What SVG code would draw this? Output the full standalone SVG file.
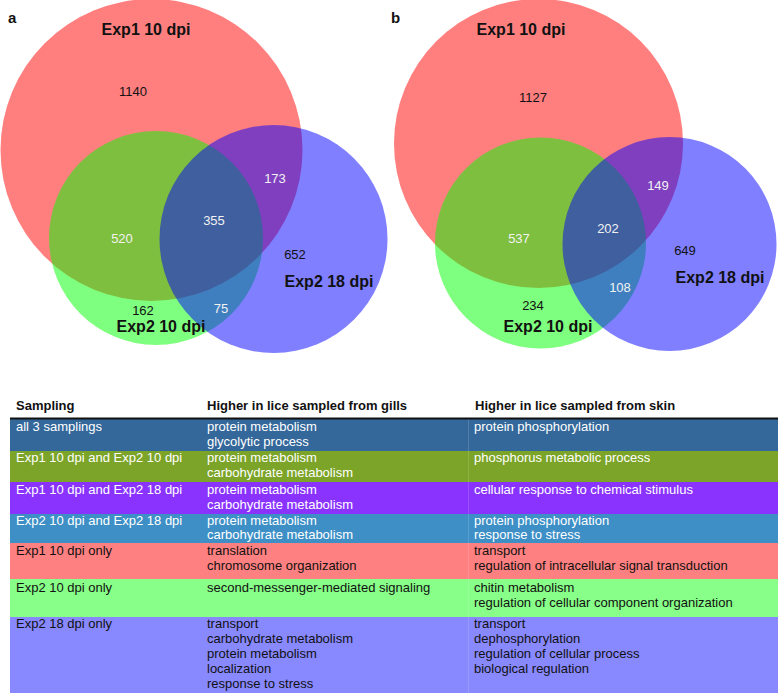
<svg xmlns="http://www.w3.org/2000/svg" width="779" height="698" viewBox="0 0 779 698">
<style>
.c{fill-opacity:0.5}
.lbl{font-family:"Liberation Sans",Arial,sans-serif;font-weight:bold;font-size:16px;fill:#111;text-anchor:middle}
.num{font-family:"Liberation Sans",Arial,sans-serif;font-size:13px;fill:#111;text-anchor:middle}
.w{fill:#f2f2f2}
.pl{font-family:"Liberation Sans",Arial,sans-serif;font-weight:bold;font-size:15px;fill:#111}
.th{font-family:"Liberation Sans",Arial,sans-serif;font-weight:bold;font-size:13px;fill:#111}
.td{font-family:"Liberation Sans",Arial,sans-serif;font-size:13px;fill:#fff}
.tk{fill:#111}
</style>
<rect width="779" height="698" fill="#fff"/>
<g id="venn-a">
<circle class="c" cx="151.5" cy="150" r="151" fill="#ff0000"/>
<circle class="c" cx="156" cy="238" r="107" fill="#00ff00"/>
<circle class="c" cx="273.5" cy="239" r="114" fill="#0000ff"/>
<text class="pl" x="8" y="23">a</text>
<text class="lbl" x="146" y="35">Exp1 10 dpi</text>
<text class="lbl" x="161" y="332">Exp2 10 dpi</text>
<text class="lbl" x="329" y="287">Exp2 18 dpi</text>
<text class="num" x="133" y="96">1140</text>
<text class="num w" x="275" y="183">173</text>
<text class="num w" x="214" y="225">355</text>
<text class="num w" x="122" y="243">520</text>
<text class="num" x="295" y="259">652</text>
<text class="num" x="143" y="315">162</text>
<text class="num w" x="221" y="313">75</text>
</g>
<g id="venn-b">
<circle class="c" cx="538.5" cy="143.5" r="144.5" fill="#ff0000"/>
<circle class="c" cx="540.5" cy="243" r="105.5" fill="#00ff00"/>
<circle class="c" cx="669.5" cy="244" r="107" fill="#0000ff"/>
<text class="pl" x="391" y="23">b</text>
<text class="lbl" x="521" y="35">Exp1 10 dpi</text>
<text class="lbl" x="548" y="332">Exp2 10 dpi</text>
<text class="lbl" x="720" y="283">Exp2 18 dpi</text>
<text class="num" x="533" y="102">1127</text>
<text class="num w" x="658" y="190">149</text>
<text class="num w" x="608" y="233">202</text>
<text class="num w" x="519" y="243">537</text>
<text class="num" x="685" y="255">649</text>
<text class="num w" x="620" y="292">108</text>
<text class="num" x="533" y="310">234</text>
</g>
<g id="table">
<text class="th" x="16" y="410">Sampling</text>
<text class="th" x="207" y="410">Higher in lice sampled from gills</text>
<text class="th" x="475" y="410">Higher in lice sampled from skin</text>
<rect x="10" y="419" width="768" height="32" fill="#34689a"/>
<rect x="10" y="451" width="768" height="31" fill="#7ba428"/>
<rect x="10" y="482" width="768" height="32" fill="#8a33ff"/>
<rect x="10" y="514" width="768" height="29" fill="#3d8fc6"/>
<rect x="10" y="543" width="768" height="36" fill="#ff8080"/>
<rect x="10" y="579" width="768" height="38" fill="#88ff88"/>
<rect x="10" y="617" width="768" height="76" fill="#8888ff"/>
<line x1="468.5" y1="419" x2="468.5" y2="693" stroke="#fff" stroke-opacity="0.15"/>
<line x1="10" y1="418.5" x2="778" y2="418.5" stroke="#111" stroke-width="2"/>
<text class="td" x="16" y="431">all 3 samplings</text>
<text class="td" x="207" y="431">protein metabolism</text>
<text class="td" x="207" y="446">glycolytic process</text>
<text class="td" x="474" y="431">protein phosphorylation</text>
<text class="td" x="16" y="462">Exp1 10 dpi and Exp2 10 dpi</text>
<text class="td" x="207" y="462">protein metabolism</text>
<text class="td" x="207" y="477">carbohydrate metabolism</text>
<text class="td" x="474" y="462">phosphorus metabolic process</text>
<text class="td" x="16" y="494">Exp1 10 dpi and Exp2 18 dpi</text>
<text class="td" x="207" y="494">protein metabolism</text>
<text class="td" x="207" y="509">carbohydrate metabolism</text>
<text class="td" x="474" y="494">cellular response to chemical stimulus</text>
<text class="td" x="16" y="525">Exp2 10 dpi and Exp2 18 dpi</text>
<text class="td" x="207" y="525">protein metabolism</text>
<text class="td" x="207" y="539">carbohydrate metabolism</text>
<text class="td" x="474" y="525">protein phosphorylation</text>
<text class="td" x="474" y="539">response to stress</text>
<text class="td tk" x="16" y="555">Exp1 10 dpi only</text>
<text class="td tk" x="207" y="555">translation</text>
<text class="td tk" x="207" y="570">chromosome organization</text>
<text class="td tk" x="474" y="555">transport</text>
<text class="td tk" x="474" y="570">regulation of intracellular signal transduction</text>
<text class="td tk" x="16" y="592">Exp2 10 dpi only</text>
<text class="td tk" x="207" y="592">second-messenger-mediated signaling</text>
<text class="td tk" x="474" y="592">chitin metabolism</text>
<text class="td tk" x="474" y="607">regulation of cellular component organization</text>
<text class="td tk" x="16" y="628">Exp2 18 dpi only</text>
<text class="td tk" x="207" y="628">transport</text>
<text class="td tk" x="207" y="643">carbohydrate metabolism</text>
<text class="td tk" x="207" y="658">protein metabolism</text>
<text class="td tk" x="207" y="673">localization</text>
<text class="td tk" x="207" y="688">response to stress</text>
<text class="td tk" x="474" y="628">transport</text>
<text class="td tk" x="474" y="643">dephosphorylation</text>
<text class="td tk" x="474" y="658">regulation of cellular process</text>
<text class="td tk" x="474" y="673">biological regulation</text>
</g>
</svg>
